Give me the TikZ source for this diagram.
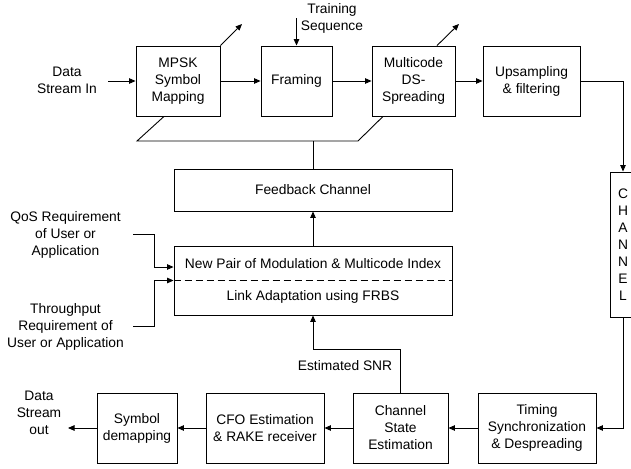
\documentclass[tikz,border=0pt]{standalone}
\usepackage{fontspec}
\setmainfont{Liberation Sans}
\usetikzlibrary{arrows.meta}
\tikzset{
	blk/.style={draw, line width=0.9pt, minimum height=70pt, align=center, inner sep=2pt},
	lbl/.style={align=center, inner sep=0pt},
	wire/.style={line width=0.9pt},
	flow/.style={line width=0.9pt, -{Triangle[length=6.5pt,width=5.5pt]}}
}

\begin{document}
\begin{tikzpicture}[x=1pt, y=-1pt, font=\fontsize{13.8}{17}\selectfont]
			%%%%% START %%%%%
			\useasboundingbox (0,0) rectangle (631,468);
			\clip (0,0) rectangle (631,468);
			
			% transmitter
			\node[blk, minimum width=84pt] (mpsk) at (178,81) {MPSK\\Symbol\\Mapping};
			\node[blk, minimum width=71pt] (framing) at (296.5,81) {Framing};
			\node[blk, minimum width=83pt] (mcode) at (413.5,81) {Multicode\\DS-\\Spreading};
			\node[blk, minimum width=97pt] (upsamp) at (531.5,81) {Upsampling\\\& filtering};
			
			\node[lbl] (datain) at (67,80) {Data\\Stream In};
			\node[lbl] (train) at (332,18.5) {Training\\Sequence};
			
			\coordinate (inpt) at (108,81);
			\coordinate (mpskout) at (242,24);
			\coordinate (mcodeout) at (459,24);
			
			\draw[flow] (inpt) -- (mpsk);
			\draw[flow] (mpsk) -- (framing);
			\draw[flow] (framing) -- (mcode);
			\draw[flow] (mcode) -- (upsamp);
			\draw[flow] (framing.north |- train) -- (framing.north);
			\draw[flow] (mpsk.north east) -- (mpskout);
			\draw[flow] ([xshift=23.5pt]mcode.north) -- (mcodeout);
			
			% feedback and link adaptation
			\node[blk, minimum width=278pt, minimum height=42pt] (fback) at (313,190) {Feedback Channel};
			\node[blk, minimum width=278pt, minimum height=69pt] (linkad) at (313,280.5) {};
			\node[lbl] (newpair) at (313,264) {New Pair of Modulation \& Multicode Index};
			\node[lbl] (frbs) at (313,297) {Link Adaptation using FRBS};
			\draw[wire, dash pattern=on 7pt off 4pt] (linkad.west) -- (linkad.east);
			
			\coordinate (fbl) at (137,141);
			\coordinate (fbr) at (358,141);
			\draw[wire] ([xshift=-14pt]mpsk.south) -- (fbl) -- (fbr) -- ([xshift=-30.5pt]mcode.south);
			\draw[wire] (fback.north) -- (fback.north |- fbl);
			\draw[flow] (linkad) -- (fback);
			
			\node[lbl] (qos) at (65.5,235) {QoS Requirement\\of User or\\Application};
			\node[lbl] (thru) at (65.5,327) {Throughput\\Requirement of\\User or Application};
			\coordinate (qosend) at (133,234);
			\coordinate (thruend) at (133,326);
			\draw[flow] (qosend) -- ++(21,0) |- ([yshift=13.5pt]linkad.west);
			\draw[flow] (thruend) -- ++(21,0) |- (linkad.west);
			
			% channel
			\node[blk, minimum width=26pt, minimum height=145pt] (chan) at (623,244.5) {C\\H\\A\\N\\N\\E\\L};
			\draw[flow] (upsamp.east) -| (chan.north);
			
			% receiver
			\node[blk, minimum width=118pt] (timing) at (537,428) {Timing\\Synchronization\\\& Despreading};
			\node[blk, minimum width=95pt] (cse) at (400.5,428) {Channel\\State\\Estimation};
			\node[blk, minimum width=118pt] (cfo) at (265,428) {CFO Estimation\\\& RAKE receiver};
			\node[blk, minimum width=80pt] (symdem) at (137,428) {Symbol\\demapping};
			
			\node[lbl] (dataout) at (39,413) {Data\\Stream\\out};
			\node[lbl] (snr) at (345,366) {Estimated SNR};
			\coordinate (outpt) at (68,428);
			
			\draw[flow] (chan.south) |- (timing.east);
			\draw[flow] (timing) -- (cse);
			\draw[flow] (cse) -- (cfo);
			\draw[flow] (cfo) -- (symdem);
			\draw[flow] (symdem) -- (outpt);
			\draw[flow] (cse.north) -- ++(0,-43) -| (linkad.south);
			
			%%%%% END %%%%%
\end{tikzpicture}
\end{document}
